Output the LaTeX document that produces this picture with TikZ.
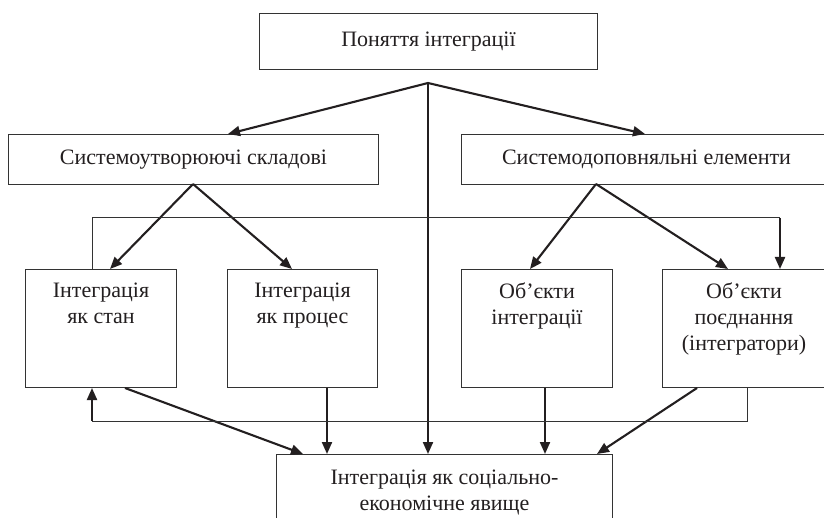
\documentclass[tikz,border=0pt]{standalone}
\usepackage{fontspec}
\setmainfont{Liberation Serif}
\usetikzlibrary{arrows.meta,calc}
\definecolor{lc}{HTML}{231F20}
\definecolor{bc}{HTML}{333333}
\begin{document}
\begin{tikzpicture}[x=1pt,y=-1pt,
  box/.style={draw=bc, line width=1pt, inner sep=0pt, anchor=north west},
  lbl/.style={font=\fontsize{22}{26}\selectfont, align=center, inner sep=0pt, text=lc},
  arr/.style={draw=lc, line width=2.1pt, -{Triangle[length=12pt,width=10pt]}},
  thinline/.style={draw=bc, line width=1pt}]
\useasboundingbox (0,0) rectangle (824,518);
\fill[white] (0,0) rectangle (824,518);

% boxes
\node[box, minimum width=338, minimum height=56] (top) at (259,13) {};
\node[box, minimum width=370, minimum height=50] (sk) at (8,134) {};
\node[box, minimum width=370, minimum height=50] (se) at (461,134) {};
\node[box, minimum width=151, minimum height=118] (stan) at (25,269) {};
\node[box, minimum width=150, minimum height=118] (proc) at (227,269) {};
\node[box, minimum width=151, minimum height=118] (obi) at (461,269) {};
\node[box, minimum width=163, minimum height=118] (obp) at (662,269) {};
\node[box, minimum width=336, minimum height=80] (res) at (276,454) {};

% labels
\node[lbl] (topT) at (top.center) {Поняття інтеграції};
\node[lbl] (skT) at (sk.center) {Системоутворюючі складові};
\node[lbl] (seT) at (se.center) {Системодоповняльні елементи};
\node[lbl, anchor=north] (stanT) at ($(stan.north)+(0,14)$) {Інтеграція\\як стан};
\node[lbl, anchor=north] (procT) at ($(proc.north)+(0,14)$) {Інтеграція\\як процес};
\node[lbl, anchor=north] (obiT) at ($(obi.north)+(0,14)$) {Об’єкти\\інтеграції};
\node[lbl, anchor=north] (obpT) at ($(obp.north)+(0,14)$) {Об’єкти\\поєднання\\(інтегратори)};
\node[lbl, anchor=north] (resT) at ($(res.north)+(0,16)$) {Інтеграція як соціально-\\економічне явище};

% connector points
\coordinate (apex) at (428,83);
\coordinate (skB) at (193,184);
\coordinate (seB) at (596,184);
\coordinate (fbT1) at (92,218);
\coordinate (fbT2) at (780,218);
\coordinate (fbB1) at (747,421);
\coordinate (fbB2) at (92,421);

% arrows from top
\draw[arr] (apex) -- ($(sk.north west)+(220,0)$);
\draw[arr] (apex) -- ($(se.north west)+(184,0)$);
\draw[arr] (apex) -- (apex |- res.north);

% second level
\draw[arr] (skB) -- ($(stan.north west)+(85,0)$);
\draw[arr] (skB) -- ($(proc.north west)+(65,0)$);
\draw[arr] (seB) -- ($(obi.north west)+(69,0)$);
\draw[arr] (seB) -- ($(obp.north west)+(66,0)$);

% to result
\draw[arr] ($(stan.south west)+(100,0)$) -- ($(res.north west)+(27,0)$);
\draw[arr] ($(proc.south west)+(100,0)$) -- ($(res.north west)+(51,0)$);
\draw[arr] ($(obi.south west)+(84,0)$) -- ($(res.north west)+(269,0)$);
\draw[arr] ($(obp.south west)+(35,0)$) -- ($(res.north west)+(321,0)$);

% feedback top
\draw[thinline] (fbT1 |- stan.north) -- (fbT1) -- (fbT2);
\draw[arr] (fbT2) -- (fbT2 |- obp.north);

% feedback bottom
\draw[thinline] (fbB1 |- obp.south) -- (fbB1) -- (fbB2);
\draw[arr] (fbB2) -- (fbB2 |- stan.south);
\end{tikzpicture}
\end{document}
